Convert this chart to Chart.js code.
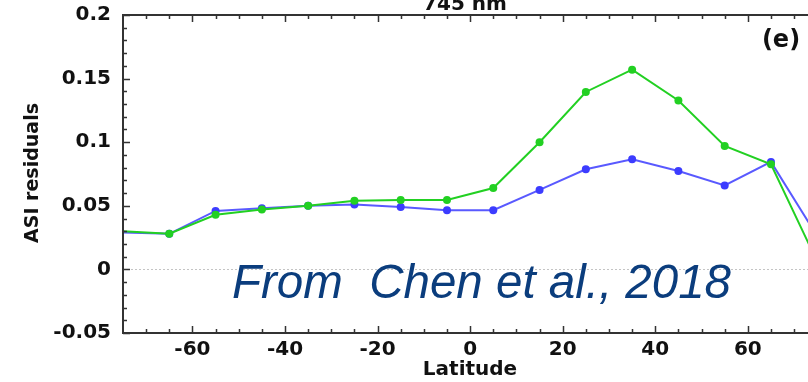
<!DOCTYPE html>
<html>
<head>
<meta charset="utf-8">
<script src="https://cdn.jsdelivr.net/npm/chart.js@4.4.0/dist/chart.umd.min.js"></script>
<style>
  html, body { margin: 0; padding: 0; background: #fff; }
  #wrap { width: 808px; height: 382px; }
</style>
</head>
<body>
<div id="wrap"><canvas id="asiChart" width="808" height="382"></canvas></div>
<script>
// dados (745 nm, painel e)
const latitudes = [-75, -65, -55, -45, -35, -25, -15, -5, 5, 15, 25, 35, 45, 55, 65, 75];
const blueValues = [0.029, 0.028, 0.046, 0.048, 0.050, 0.051, 0.049, 0.0465, 0.0465, 0.0625, 0.0787, 0.0866, 0.0774, 0.066, 0.0845, 0.026];
const greenValues = [0.030, 0.028, 0.043, 0.047, 0.050, 0.054, 0.0545, 0.0545, 0.064, 0.100, 0.1395, 0.157, 0.1328, 0.097, 0.0827, 0.006];
const xTicks = [-60, -40, -20, 0, 20, 40, 60];
const yTicks = [-0.05, 0, 0.05, 0.1, 0.15, 0.2];

const AXIS_COLOR = '#333';
const BOLD = 'bold 20px "DejaVu Sans"';

// pontos nas bordas ficam sem marcador (fora da área visível)
function edgeRadius(ctx) {
  const i = ctx.dataIndex;
  return i === 0 || i === latitudes.length - 1 ? 0 : 4;
}

const toXY = (vals) => vals.map((v, i) => ({ x: latitudes[i], y: v }));

// moldura, ticks internos e textos
const framePlugin = {
  id: 'frame',
  afterDraw(chart) {
    const { ctx, chartArea: a, scales } = chart;
    const x = scales.x, y = scales.y;
    ctx.save();
    ctx.strokeStyle = AXIS_COLOR;
    ctx.lineWidth = 2;
    ctx.beginPath();
    ctx.moveTo(a.right + 2, a.top);
    ctx.lineTo(a.left, a.top);
    ctx.lineTo(a.left, a.bottom);
    ctx.lineTo(a.right + 2, a.bottom);
    ctx.stroke();

    ctx.lineWidth = 1.5;
    ctx.beginPath();
    // ticks do eixo x (embaixo e em cima), menores a cada 5 graus
    for (let v = -70; v <= 70; v += 5) {
      const px = Math.round(x.getPixelForValue(v)) + 0.5;
      const len = v % 20 === 0 ? 7 : 4;
      ctx.moveTo(px, a.bottom);
      ctx.lineTo(px, a.bottom - len);
      ctx.moveTo(px, a.top);
      ctx.lineTo(px, a.top + len);
    }
    // ticks do eixo y, menores a cada 0.01
    for (let k = -5; k <= 20; k++) {
      const py = Math.round(y.getPixelForValue(k / 100)) + 0.5;
      const len = k % 5 === 0 ? 7 : 4;
      ctx.moveTo(a.left, py);
      ctx.lineTo(a.left + len, py);
    }
    ctx.stroke();

    ctx.fillStyle = '#111';
    ctx.font = BOLD;
    ctx.textAlign = 'center';
    ctx.textBaseline = 'alphabetic';
    ctx.fillText('745 nm', 465, 10);
    ctx.fillText('Latitude', 470, 375);

    ctx.font = 'bold 24px "DejaVu Sans"';
    ctx.fillText('(e)', 781, 47);

    ctx.save();
    ctx.translate(33, 173);
    ctx.rotate(-Math.PI / 2);
    ctx.font = 'bold 19px "DejaVu Sans"';
    ctx.textBaseline = 'middle';
    ctx.fillText('ASI residuals', 0, 0);
    ctx.restore();

    ctx.fillStyle = '#0b3d7d';
    ctx.font = 'italic 47.5px "Liberation Sans"';
    ctx.textAlign = 'left';
    ctx.fillText('From  Chen et al., 2018', 232, 298);
    ctx.restore();
  },
};

const config = {
  type: 'line',
  data: {
    datasets: [
      {
        label: 'green',
        data: toXY(greenValues),
        borderColor: '#22d022',
        backgroundColor: '#22d022',
        borderWidth: 2,
        pointRadius: edgeRadius,
        pointBorderWidth: 0,
        tension: 0,
      },
      {
        label: 'blue',
        data: toXY(blueValues),
        borderColor: 'rgba(60, 60, 255, 0.85)',
        backgroundColor: '#3c3cff',
        borderWidth: 2,
        pointRadius: edgeRadius,
        pointBorderWidth: 0,
        tension: 0,
      },
    ],
  },
  options: {
    responsive: false,
    devicePixelRatio: 1,
    animation: false,
    layout: { padding: { top: 15, right: 0, left: 0, bottom: 0 } },
    plugins: { legend: { display: false }, tooltip: { enabled: false } },
    scales: {
      x: {
        type: 'linear',
        min: -75,
        max: 73,
        afterFit: (s) => { s.height = 49; s.paddingLeft = 0; s.paddingRight = 0; },
        afterBuildTicks: (s) => { s.ticks = xTicks.map((v) => ({ value: v })); },
        grid: { display: false, drawTicks: false },
        border: { display: false },
        ticks: { font: { family: 'DejaVu Sans', size: 20, weight: 'bold' }, color: '#111', padding: 5, maxRotation: 0 },
      },
      y: {
        min: -0.05,
        max: 0.2,
        afterFit: (s) => { s.width = 123; s.paddingTop = 0; s.paddingBottom = 0; },
        afterBuildTicks: (s) => { s.ticks = yTicks.map((v) => ({ value: v })); },
        grid: {
          drawTicks: false,
          lineWidth: 1,
          color: (c) => (c.tick && c.tick.value === 0 ? '#c4c4c4' : 'rgba(0,0,0,0)'),
        },
        border: { display: false, dash: [2, 2] },
        ticks: {
          font: { family: 'DejaVu Sans', size: 20, weight: 'bold' },
          color: '#111',
          padding: 12,
          callback: (v) => String(parseFloat(v.toFixed(2))),
        },
      },
    },
  },
  plugins: [framePlugin],
};

new Chart(document.getElementById('asiChart').getContext('2d'), config);
</script>
</body>
</html>
